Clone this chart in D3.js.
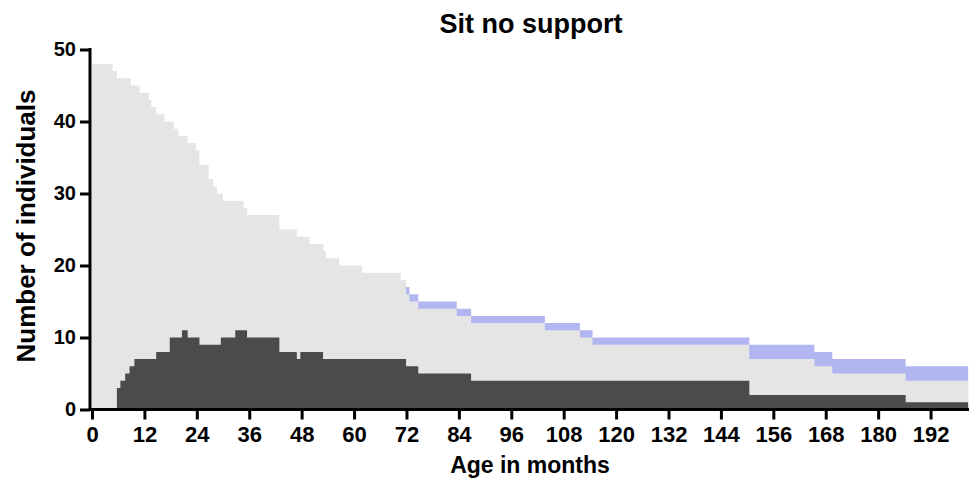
<!DOCTYPE html>
<html>
<head>
<meta charset="utf-8">
<script src="https://cdn.jsdelivr.net/npm/d3@7"></script>
<style>
  body { margin: 0; background: #fff; }
  svg { font-family: 'Liberation Sans', Arial, sans-serif; }
  .axis path, .axis line { stroke: #000; stroke-width: 3; }
  .axis text { font-weight: bold; fill: #000; }
</style>
</head>
<body>
<svg></svg>
<script>
// Data (months where each step starts, and its value)

// top of light grey area (still followed, not sitting yet + sitting)
let lightMonths = [0, 4.7, 5.7, 8.9, 10.9, 13.0, 13.6, 14.7, 16.6, 18.7, 19.8, 21.9, 23.8, 24.6, 26.7,
  27.8, 28.6, 30.0, 34.7, 35.5, 42.9, 46.9, 49.8, 53.0, 53.6, 56.6, 61.8, 70.7, 71.9, 72.7,
  74.7, 83.5, 86.8, 103.7, 111.7, 114.6, 150.5, 165.4, 169.5, 186.3];
let lightValues = [48, 47, 46, 45, 44, 43, 42, 41, 40, 39, 38, 37, 36, 34, 32,
  31, 30, 29, 28, 27, 25, 24, 23, 22, 21, 20, 19, 18, 16, 15,
  14, 13, 12, 11, 10, 9, 7, 6, 5, 4];

// dark area (sitting without support)
let darkMonths = [0, 5.7, 6.5, 7.6, 8.6, 9.7, 14.7, 17.8, 20.6, 21.9, 24.6, 29.5, 32.8, 35.5,
  42.9, 46.9, 47.7, 52.9, 71.9, 74.7, 86.8, 150.5, 186.3];
let darkValues = [0, 3, 4, 5, 6, 7, 8, 10, 11, 10, 9, 10, 11, 10,
  8, 7, 8, 7, 6, 5, 4, 2, 1];

// blue band top (total incl. the lighter blue group), only from ~72 months on
let blueMonths = [71.9, 72.7, 74.7, 83.5, 86.8, 103.7, 111.7, 114.6, 150.5, 165.4, 169.5, 186.3];
let blueValues = [17, 16, 15, 14, 13, 12, 11, 10, 9, 8, 7, 6];

let xTicks = d3.range(0, 193, 12);
let yTicks = [0, 10, 20, 30, 40, 50];
let endMonth = 200.6;

let width = 979;
let height = 482;

let svg = d3.select('svg')
  .attr('width', width)
  .attr('height', height);

let x = d3.scaleLinear().domain([0, 200.8]).range([92, 969]);
let y = d3.scaleLinear().domain([0, 50]).range([409.5, 49.5]);

// turn months + values into step points, closing at the end month
let toSteps = function(months, values) {
  let pts = months.map((m, i) => ({ m: m, v: values[i] }));
  pts.push({ m: endMonth, v: values[values.length - 1] });
  return pts;
};

let area = d3.area()
  .curve(d3.curveStepAfter)
  .x(d => x(d.m))
  .y0(y(0))
  .y1(d => y(d.v));

// blue first, light grey over it, dark on top
svg.append('path')
  .datum(toSteps(blueMonths, blueValues))
  .attr('fill', '#b1b6f1')
  .attr('d', area);

svg.append('path')
  .datum(toSteps(lightMonths, lightValues))
  .attr('fill', '#e5e5e5')
  .attr('d', area);

svg.append('path')
  .datum(toSteps(darkMonths, darkValues))
  .attr('fill', '#4b4b4b')
  .attr('d', area);

// axes
let xAxis = svg.append('g')
  .attr('class', 'axis')
  .attr('transform', 'translate(0,' + y(0) + ')')
  .call(d3.axisBottom(x).tickValues(xTicks).tickSize(10).tickSizeOuter(0).tickPadding(7));

xAxis.select('.domain').attr('d', 'M88.5,0H969');
xAxis.selectAll('text').style('font-size', '22px');

let yAxis = svg.append('g')
  .attr('class', 'axis')
  .attr('transform', 'translate(90,0)')
  .call(d3.axisLeft(y).tickValues(yTicks).tickSize(10).tickSizeOuter(0).tickPadding(4));

yAxis.select('.domain').attr('d', 'M0,' + (y(50) - 1.5) + 'V' + (y(0) + 1.5));
yAxis.selectAll('text').style('font-size', '20px');

// titles
svg.append('text')
  .attr('x', 531)
  .attr('y', 33)
  .attr('text-anchor', 'middle')
  .style('font-size', '27px')
  .style('font-weight', 'bold')
  .text('Sit no support');

svg.append('text')
  .attr('x', 530)
  .attr('y', 473)
  .attr('text-anchor', 'middle')
  .style('font-size', '23px')
  .style('font-weight', 'bold')
  .text('Age in months');

svg.append('text')
  .attr('transform', 'translate(35,226) rotate(-90)')
  .attr('text-anchor', 'middle')
  .style('font-size', '26px')
  .style('font-weight', 'bold')
  .text('Number of individuals');
</script>
</body>
</html>
